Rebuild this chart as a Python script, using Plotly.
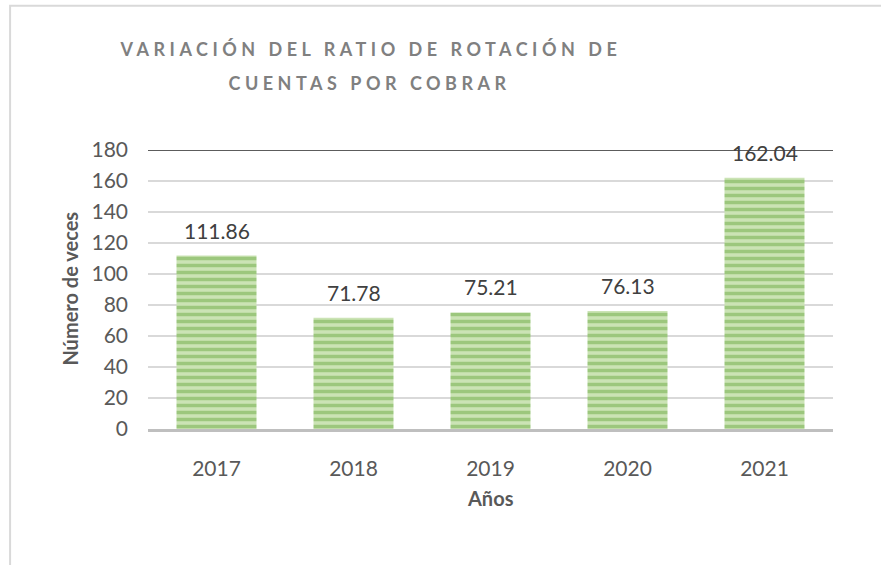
import plotly.graph_objects as go

# datos
years = ['2017', '2018', '2019', '2020', '2021']
ratios = [111.86, 71.78, 75.21, 76.13, 162.04]
y_ticks = [0, 20, 40, 60, 80, 100, 120, 140, 160, 180]

title_1 = 'VARIACIÓN DEL RATIO DE ROTACIÓN DE'
title_2 = 'CUENTAS POR COBRAR'
x_title = 'Años'
y_title = 'Número de veces'

W, H = 881, 565
L, R, T, B = 147.5, 48, 149.6, 135.7
pw = W - L - R
ph = H - T - B


def px(x):
    return (x - L) / pw


def py(y):
    return (H - B - y) / ph


FONT = 'Lato'

fig = go.Figure()

fig.add_trace(go.Bar(
    x=years,
    y=ratios,
    marker=dict(
        color='#cbe3b5',
        line=dict(width=0),
        pattern=dict(shape='-', fgcolor='#6eab45', size=7, solidity=0.5),
    ),
    hoverinfo='x+y',
))

# etiquetas de datos (x como índice de categoría: '2017' se leería como serial)
for i, v in enumerate(ratios):
    fig.add_annotation(x=i, y=v, text=f'{v:.2f}', showarrow=False,
                       yanchor='bottom', yshift=11,
                       font=dict(family=FONT, size=21, color='#404040'))

# título (dos líneas)
fig.add_annotation(xref='paper', yref='paper', x=px(370), y=py(48), text=title_1,
                   showarrow=False, xanchor='center', yanchor='middle',
                   font=dict(family=FONT, size=18, color='#808080', weight='bold'))
fig.add_annotation(xref='paper', yref='paper', x=px(370), y=py(82), text=title_2,
                   showarrow=False, xanchor='center', yanchor='middle',
                   font=dict(family=FONT, size=18, color='#808080', weight='bold'))

# títulos de ejes
fig.add_annotation(xref='paper', yref='paper', x=px(69), y=py(289), text=y_title,
                   textangle=-90, showarrow=False, xanchor='center', yanchor='middle',
                   font=dict(family=FONT, size=20, color='#595959', weight='bold'))
fig.add_annotation(xref='paper', yref='paper', x=px(490), y=py(498), text=x_title,
                   showarrow=False, xanchor='center', yanchor='middle',
                   font=dict(family=FONT, size=20, color='#595959', weight='bold'))

# línea superior y borde del gráfico
fig.add_shape(type='line', xref='paper', yref='y', x0=0, x1=1, y0=180, y1=180,
              line=dict(color='#262626', width=1.5))
fig.add_shape(type='rect', xref='paper', yref='paper', x0=px(9.5), x1=px(900),
              y0=py(5), y1=py(620), line=dict(color='#d9d9d9', width=2), layer='below')

fig.update_layout(
    width=W, height=H,
    margin=dict(l=L, r=R, t=T, b=B),
    paper_bgcolor='white', plot_bgcolor='white',
    showlegend=False,
    bargap=0.416,
    font=dict(family=FONT, color='#595959'),
    xaxis=dict(
        type='category', range=[-0.5, len(years) - 0.5],
        showgrid=False, showline=True, linecolor='#bfbfbf', linewidth=3,
        ticks='', ticklabelstandoff=19,
        tickfont=dict(family=FONT, size=21, color='#595959'),
    ),
    yaxis=dict(
        range=[0, 180], tickvals=y_ticks, showgrid=True, gridcolor='#d9d9d9',
        gridwidth=1.5, zeroline=False, showline=False, ticks='',
        ticklabelstandoff=19,
        tickfont=dict(family=FONT, size=21, color='#595959'),
    ),
)

post_js = """
document.body.style.margin = '0';
var gd = document.getElementById('{plot_id}');
function spaceTitle(){
  gd.querySelectorAll('text.annotation-text').forEach(function(t){
    if (/VARIACI|CUENTAS/.test(t.textContent)) { t.style.letterSpacing = '4.5px'; }
  });
}
spaceTitle();
gd.on('plotly_afterplot', spaceTitle);
"""

fig.write_html('out.html', post_script=post_js, config={'displayModeBar': False})
